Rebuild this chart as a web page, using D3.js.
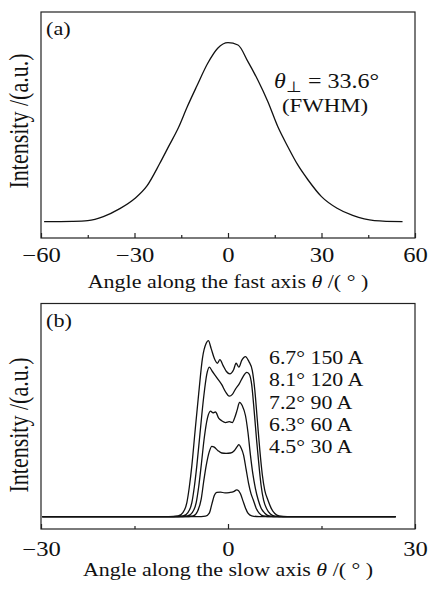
<!DOCTYPE html>
<html>
<head>
<meta charset="UTF-8" />
<title>Far-field profiles</title>
<script src="https://cdn.jsdelivr.net/npm/d3@7"></script>
<style>
  body { margin: 0; background: #fff; }
  svg { display: block; background: #fff; }
  text { font-family: "Liberation Serif", "Times New Roman", serif; fill: #111; }
  .frame { fill: none; stroke: #222; stroke-width: 1.2; }
  .curve { fill: none; stroke: #111; stroke-width: 1.3; }
  .tick line { stroke: #222; stroke-width: 1.2; }
</style>
</head>
<body>
<div id="chart"></div>
<script>
// (a) fast axis profile, intensity normalised to the peak
const fastAngle = [-59, -50, -45, -40, -35, -30, -26, -22, -19, -16, -13, -10, -6.5, -3.3, 0,
  3.2, 6.4, 9.6, 12.8, 16, 19.2, 22.4, 25.7, 30, 35, 40, 47, 56];
const fastIntensity = [0, 0.002, 0.006, 0.028, 0.07, 0.128, 0.2, 0.322, 0.422, 0.522, 0.645, 0.758, 0.885, 0.969, 1.0,
  0.987, 0.894, 0.79, 0.67, 0.53, 0.419, 0.317, 0.233, 0.14, 0.075, 0.035, 0.006, 0];

// (b) slow axis profiles, [angle, intensity], normalised to the 150 A peak
const slow150 = [[-29.8, 0], [-9.5, 0], [-8.0, 0.004], [-7.2, 0.025], [-6.6, 0.08], [-6.2, 0.17], [-5.8, 0.29],
  [-5.3, 0.48], [-4.7, 0.7], [-4.1, 0.9], [-3.5, 0.985], [-3.15, 1.0], [-2.7, 0.955], [-2.2, 0.9], [-1.7, 0.872],
  [-1.3, 0.892], [-0.8, 0.86], [-0.25, 0.825], [0.3, 0.812], [0.9, 0.835], [1.3, 0.872], [1.75, 0.85], [2.2, 0.888],
  [2.8, 0.91], [3.35, 0.882], [3.9, 0.83], [4.3, 0.72], [4.7, 0.55], [5.1, 0.38], [5.5, 0.24], [5.9, 0.15],
  [6.4, 0.095], [6.9, 0.05], [7.5, 0.018], [8.2, 0.004], [9.5, 0], [26.9, 0]];
const slow120 = [[-29.8, 0], [-8.8, 0], [-7.2, 0.004], [-6.4, 0.025], [-5.8, 0.08], [-5.4, 0.17], [-5.0, 0.29],
  [-4.5, 0.47], [-3.9, 0.68], [-3.4, 0.81], [-3.0, 0.85], [-2.5, 0.825], [-1.8, 0.79], [-1.0, 0.75], [-0.4, 0.71],
  [0.2, 0.685], [0.7, 0.695], [1.2, 0.725], [1.8, 0.755], [2.4, 0.795], [3.0, 0.82], [3.4, 0.81], [3.8, 0.75],
  [4.2, 0.6], [4.6, 0.43], [5.0, 0.28], [5.3, 0.18], [5.7, 0.095], [6.2, 0.045], [6.8, 0.015], [7.5, 0.003],
  [9, 0], [26.9, 0]];
const slow90 = [[-29.8, 0], [-8, 0], [-6.5, 0.004], [-5.7, 0.025], [-5.1, 0.08], [-4.7, 0.17], [-4.3, 0.29],
  [-3.8, 0.45], [-3.3, 0.56], [-2.8, 0.6], [-2.4, 0.59], [-2.0, 0.595], [-1.5, 0.56], [-1.0, 0.545], [-0.4, 0.535],
  [0.2, 0.54], [0.7, 0.535], [1.1, 0.565], [1.5, 0.61], [1.85, 0.65], [2.3, 0.63], [2.8, 0.575], [3.2, 0.48],
  [3.6, 0.35], [4.0, 0.24], [4.4, 0.16], [4.85, 0.095], [5.3, 0.05], [5.9, 0.02], [6.6, 0.004], [8, 0], [26.9, 0]];
const slow60 = [[-29.8, 0], [-7, 0], [-5.6, 0.004], [-4.9, 0.03], [-4.3, 0.1], [-3.9, 0.2], [-3.5, 0.29],
  [-3.0, 0.37], [-2.6, 0.4], [-2.2, 0.395], [-1.6, 0.375], [-1.0, 0.362], [-0.3, 0.36], [0.4, 0.362], [1.0, 0.375],
  [1.5, 0.4], [1.75, 0.41], [2.1, 0.39], [2.5, 0.35], [2.9, 0.27], [3.3, 0.19], [3.7, 0.13], [4.06, 0.095],
  [4.5, 0.05], [5.0, 0.02], [5.7, 0.004], [7, 0], [26.9, 0]];
const slow30 = [[-29.8, 0], [-5, 0], [-3.6, 0.003], [-3.0, 0.02], [-2.6, 0.07], [-2.2, 0.12], [-1.8, 0.138],
  [-1.2, 0.14], [-0.5, 0.135], [0.2, 0.137], [0.9, 0.142], [1.4, 0.152], [1.7, 0.148], [2.0, 0.13], [2.4, 0.09],
  [2.8, 0.05], [3.2, 0.02], [3.8, 0.005], [5, 0], [26.9, 0]];

const slowCurrents = ["150 A", "120 A", "90 A", "60 A", "30 A"];
const slowFwhm = ["6.7°", "8.1°", "7.2°", "6.3°", "4.5°"];

const fastMajor = [-60, -30, 0, 30, 60], fastMinor = [-45, -15, 15, 45];
const slowMajor = [-30, 0, 30], slowMinor = [-15, 15];

const svg = d3.select("#chart").append("svg")
  .attr("width", 428)
  .attr("height", 590);

// the original figure is stretched sideways, so text gets a 1.2 x-scale
function label(x, y, str, size, anchor) {
  return svg.append("text")
    .attr("transform", `translate(${x},${y}) scale(1.2,1)`)
    .attr("font-size", size)
    .attr("text-anchor", anchor || "start")
    .text(str);
}

function panel(p) {
  let x = d3.scaleLinear().domain(p.xDomain).range([41, 415]);
  let y = d3.scaleLinear().domain([0, 1]).range([p.base, p.peak]);

  svg.append("rect").attr("class", "frame")
    .attr("x", 41).attr("y", p.top)
    .attr("width", 374).attr("height", p.bottom - p.top);

  // ticks point into the frame
  let major = svg.append("g")
    .attr("transform", "translate(0," + p.bottom + ")")
    .call(d3.axisBottom(x).tickValues(p.major).tickSize(-5).tickFormat(d3.format("d")));
  major.select(".domain").remove();
  major.attr("font-size", null).attr("font-family", null);
  major.selectAll("text")
    .attr("y", null).attr("dy", null).attr("fill", null)
    .attr("font-size", 20.5)
    .attr("transform", `translate(0,${p.tickText}) scale(1.2,1)`);

  let minor = svg.append("g")
    .attr("transform", "translate(0," + p.bottom + ")")
    .call(d3.axisBottom(x).tickValues(p.minor).tickSize(-3).tickFormat(""));
  minor.select(".domain").remove();

  let line = d3.line()
    .x(d => x(d[0]))
    .y(d => y(d[1]))
    .curve(d3.curveMonotoneX);

  svg.append("g")
    .selectAll("path")
    .data(p.series)
    .enter()
    .append("path")
    .attr("class", "curve")
    .attr("d", line);

  // axis titles
  let xt = label(228, p.bottom + p.titleGap, "", 18.3, "middle");
  xt.append("tspan").text(p.title + " ");
  xt.append("tspan").attr("font-style", "italic").text("θ");
  xt.append("tspan").text(" /( ° )");

  svg.append("text")
    .attr("transform", `translate(28,${p.yMid}) scale(1.2,1) rotate(-90)`)
    .attr("font-size", 22)
    .attr("text-anchor", "middle")
    .text("Intensity /(a.u.)");

  label(46, p.top + 23, p.tag, 18.5);
}

panel({
  xDomain: [-60, 60], top: 12, bottom: 238, base: 221.7, peak: 42.7,
  major: fastMajor, minor: fastMinor, tickText: 23.5, titleGap: 50, yMid: 121,
  title: "Angle along the fast axis", tag: "(a)",
  series: [fastAngle.map((a, i) => [a, fastIntensity[i]])]
});

panel({
  xDomain: [-30, 30], top: 303.5, bottom: 529, base: 516.7, peak: 340.7,
  major: slowMajor, minor: slowMinor, tickText: 26.5, titleGap: 46.5, yMid: 425,
  title: "Angle along the slow axis", tag: "(b)",
  series: [slow150, slow120, slow90, slow60, slow30]
});

// (a) annotation
let ann = label(274, 88, "", 20);
ann.append("tspan").attr("font-style", "italic").text("θ");
ann.append("tspan").attr("font-size", 15).attr("dy", 4).text("⊥");
ann.append("tspan").attr("dy", -4).text(" = 33.6°");
label(282, 111.5, "(FWHM)", 19);

// (b) legend, top to bottom
slowCurrents.forEach((c, i) => {
  label(269, 364 + i * 22.3, slowFwhm[i] + " " + c, 18.2);
});
</script>
</body>
</html>
